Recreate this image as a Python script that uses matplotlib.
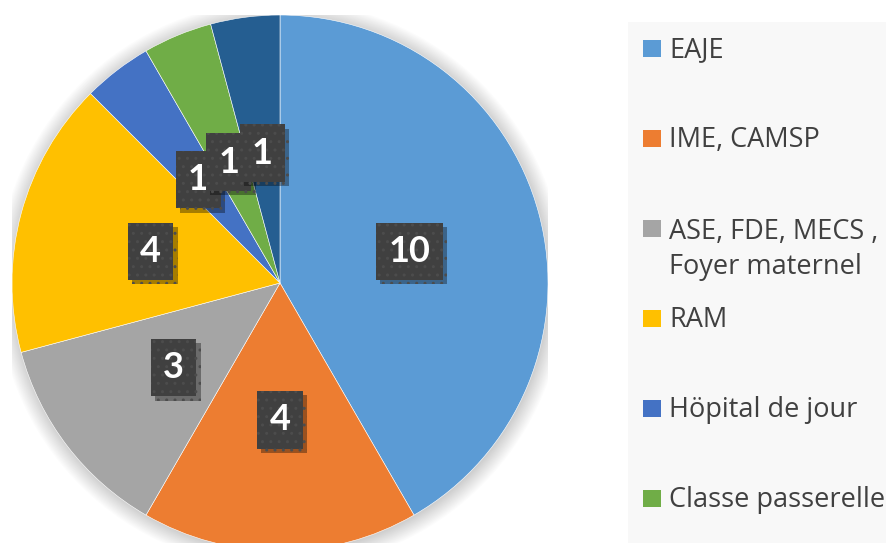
import matplotlib.pyplot as plt
import matplotlib.patheffects as pe
from matplotlib.patches import Circle, Rectangle

plt.rcParams['font.family'] = ['Lato', 'DejaVu Sans']

categories = ['EAJE', 'IME, CAMSP', 'ASE, FDE, MECS ,\nFoyer maternel', 'RAM',
              'Höpital de jour', 'Classe passerelle', 'Autre']
counts = [10, 4, 3, 4, 1, 1, 1]
colors = ['#5B9BD5', '#ED7D31', '#A5A5A5', '#FFC000', '#4472C4', '#70AD47', '#255E91']

W, H = 887, 543
fig = plt.figure(figsize=(W / 100, H / 100), dpi=100)

# pie area: center (280, 283) px from top, radius 268 px
cx, cy, r = 280, 283, 268
ax = fig.add_axes([(cx - r) / W, (H - cy - r) / H, 2 * r / W, 2 * r / H])
ax.axis('off')

# soft shadow around the pie
for i in range(16):
    ax.add_patch(Circle((0.004, -0.006), 1 + 0.004 * i, color='k', alpha=0.013, lw=0, zorder=0))

total = sum(counts)
wedges, _, autotexts = ax.pie(
    counts, colors=colors, startangle=90, counterclock=False, radius=1,
    autopct=lambda p: f'{round(p * total / 100)}', pctdistance=0.5,
    wedgeprops=dict(edgecolor='white', linewidth=0.4),
    textprops=dict(color='white', fontsize=26, fontweight='bold'))

for t in autotexts:
    t.set_verticalalignment('center_baseline')
    t.set_bbox(dict(boxstyle='square,pad=0.34', fc='#404040', ec='#4c4c4c', lw=0, hatch='..'))
    t.get_bbox_patch().set_path_effects(
        [pe.SimplePatchShadow(offset=(3, -3), shadow_rgbFace='k', alpha=0.35), pe.Normal()])
ax.set_xlim(-1, 1)
ax.set_ylim(-1, 1)

# legend panel
fig.patches.append(Rectangle((628 / W, 0), 1, 1 - 22 / H, transform=fig.transFigure,
                             fc='#F8F8F8', ec='none', zorder=0))
line_h = 37
for i, (lab, col) in enumerate(zip(categories, colors)):
    yc = 48 + 90 * i
    if yc > H:
        break
    nlines = lab.count('\n')
    fig.patches.append(Rectangle((643 / W, 1 - (yc + 9) / H), 18 / W, 17 / H,
                                 transform=fig.transFigure, fc=col, ec='none'))
    fig.text(669 / W, 1 - (yc + 9 + nlines * line_h) / H, lab, fontsize=19.5, color='#404040',
             family=['Open Sans', 'DejaVu Sans'],
             va='baseline', ha='left', linespacing=1.35)

fig.savefig('out.png', dpi=100)
